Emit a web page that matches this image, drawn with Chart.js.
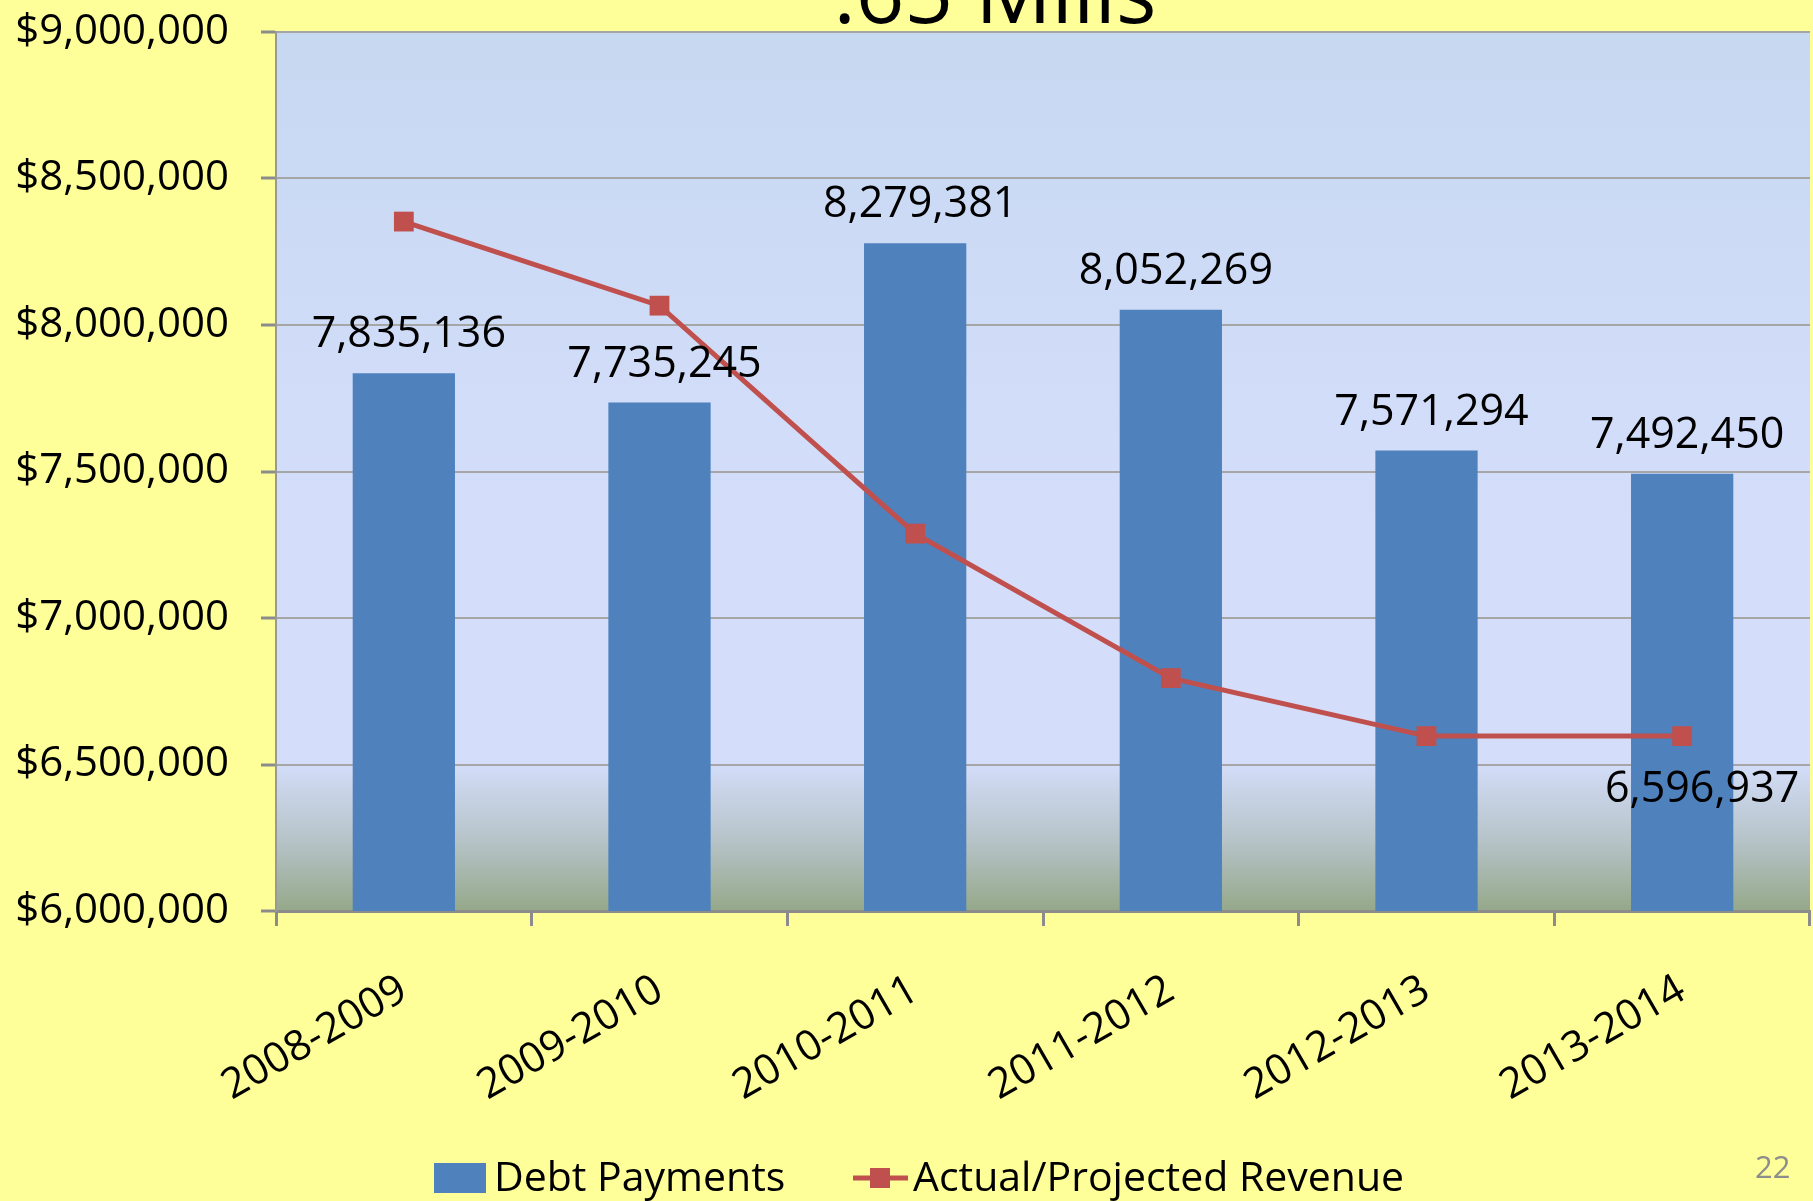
<!DOCTYPE html>
<html>
<head>
<meta charset="utf-8">
<title>.65 Mills</title>
<script src="https://cdn.jsdelivr.net/npm/chart.js@4.4.1/dist/chart.umd.min.js"></script>
<style>
  html, body { margin: 0; padding: 0; background: #ffff99; overflow: hidden; }
  /* a bit wider than the window: the plot runs right up to the slide edge */
  #wrap { position: relative; width: 1824px; height: 1201px; }
  #wrap canvas { display: block; }
</style>
</head>
<body>
<div id="wrap"><canvas id="mills"></canvas></div>
<script>
// chart values
const years = ['2008-2009', '2009-2010', '2010-2011', '2011-2012', '2012-2013', '2013-2014'];
const debtPayments = [7835136, 7735245, 8279381, 8052269, 7571294, 7492450];
const revenue = [8353000, 8066000, 7288000, 6795000, 6596937, 6596937];
const revenueLabeled = [5]; // only the last revenue point carries a label
const yMin = 6000000;
const yMax = 9000000;
const yStep = 500000;

const titleText = '.65 Mills';
const pageNumber = '22';

const FONT = "'Open Sans', 'DejaVu Sans', sans-serif";
const BLUE = '#4f81bd';
const RED = '#c0504d';

const fmt = v => v.toLocaleString('en-US');

const decor = {
  id: 'decor',
  beforeDraw(chart) {
    const { ctx, chartArea: a } = chart;
    const g = ctx.createLinearGradient(0, a.top, 0, a.bottom);
    g.addColorStop(0, '#c7d8f1');
    g.addColorStop(0.55, '#d4defb');
    g.addColorStop(0.83, '#d4defb');
    g.addColorStop(0.92, '#b6c3c8');
    g.addColorStop(1, '#95a889');
    ctx.save();
    ctx.fillStyle = g;
    ctx.fillRect(a.left, a.top, a.right - a.left, a.bottom - a.top);
    ctx.restore();
  },
  afterDatasetsDraw(chart) {
    const { ctx } = chart;
    ctx.save();
    ctx.font = '43px ' + FONT;
    ctx.fillStyle = '#000';
    ctx.textAlign = 'center';
    ctx.textBaseline = 'alphabetic';
    // bar value labels
    const barMeta = chart.getDatasetMeta(0);
    barMeta.data.forEach((bar, i) => {
      ctx.fillText(fmt(debtPayments[i]), bar.x + 5, bar.y - 26);
    });
    // revenue label(s), below the point
    const lineMeta = chart.getDatasetMeta(1);
    revenueLabeled.forEach(i => {
      const pt = lineMeta.data[i];
      ctx.fillText(fmt(revenue[i]), pt.x + 20, pt.y + 66);
    });
    ctx.restore();
  },
  afterDraw(chart) {
    const { ctx } = chart;
    ctx.save();
    // title, mostly cut off by the top edge
    ctx.fillStyle = '#000';
    ctx.font = '85px ' + FONT;
    ctx.textAlign = 'center';
    ctx.textBaseline = 'alphabetic';
    ctx.fillText(titleText, 995, 23);

    // legend
    const ds = chart.data.datasets;
    ctx.font = '41px ' + FONT;
    ctx.textAlign = 'left';
    ctx.fillStyle = ds[0].backgroundColor;
    ctx.fillRect(434, 1163, 52, 30);
    ctx.fillStyle = '#000';
    ctx.fillText(ds[0].label, 494, 1191);

    ctx.strokeStyle = ds[1].borderColor;
    ctx.lineWidth = 5;
    ctx.beginPath();
    ctx.moveTo(853, 1178);
    ctx.lineTo(908, 1178);
    ctx.stroke();
    ctx.fillStyle = ds[1].pointBackgroundColor;
    ctx.fillRect(870, 1168, 20, 20);
    ctx.fillStyle = '#000';
    ctx.fillText(ds[1].label, 913, 1191);

    // slide number
    ctx.fillStyle = '#8d8d8d';
    ctx.font = '31px ' + FONT;
    ctx.fillText(pageNumber, 1755, 1178);
    ctx.restore();
  }
};

Chart.defaults.font.family = FONT;
Chart.defaults.color = '#000';

new Chart(document.getElementById('mills').getContext('2d'), {
  type: 'bar',
  data: {
    labels: years,
    datasets: [
      {
        type: 'bar',
        label: 'Debt Payments',
        data: debtPayments,
        backgroundColor: BLUE,
        borderWidth: 0,
        barPercentage: 0.4,
        categoryPercentage: 1.0,
        order: 2
      },
      {
        type: 'line',
        label: 'Actual/Projected Revenue',
        data: revenue,
        borderColor: RED,
        borderWidth: 5,
        pointStyle: 'rect',
        pointRadius: 14,
        pointBackgroundColor: RED,
        pointBorderColor: RED,
        pointBorderWidth: 0,
        tension: 0,
        order: 1
      }
    ]
  },
  options: {
    responsive: true,
    maintainAspectRatio: false,
    animation: false,
    layout: { padding: { top: 32, right: 0, left: 0, bottom: 0 } },
    plugins: {
      legend: { display: false },
      tooltip: { enabled: false },
      title: { display: false }
    },
    scales: {
      x: {
        offset: true,
        grid: {
          offset: true,
          drawOnChartArea: false,
          drawTicks: true,
          tickLength: 15,
          tickColor: '#8c8c8c',
          tickWidth: 3
        },
        border: { color: '#8c8c8c', width: 3 },
        ticks: {
          autoSkip: false,
          minRotation: 30,
          maxRotation: 30,
          padding: 39,
          font: { size: 42 },
          color: '#000'
        },
        afterFit(scale) {
          scale.height = 290;
          scale.paddingLeft = 0;
          scale.paddingRight = 0;
        }
      },
      y: {
        min: yMin,
        max: yMax,
        grid: {
          color: '#a6a6a6',
          lineWidth: 2,
          tickLength: 15,
          tickColor: '#8c8c8c',
          tickWidth: 3
        },
        border: { color: '#999999', width: 2 },
        ticks: {
          stepSize: yStep,
          padding: 32,
          font: { size: 42 },
          color: '#000',
          callback: v => '$' + fmt(v)
        },
        afterFit(scale) {
          scale.width = 276;
          scale.paddingTop = 0;
          scale.paddingBottom = 0;
        }
      }
    }
  },
  plugins: [decor]
});
</script>
</body>
</html>
